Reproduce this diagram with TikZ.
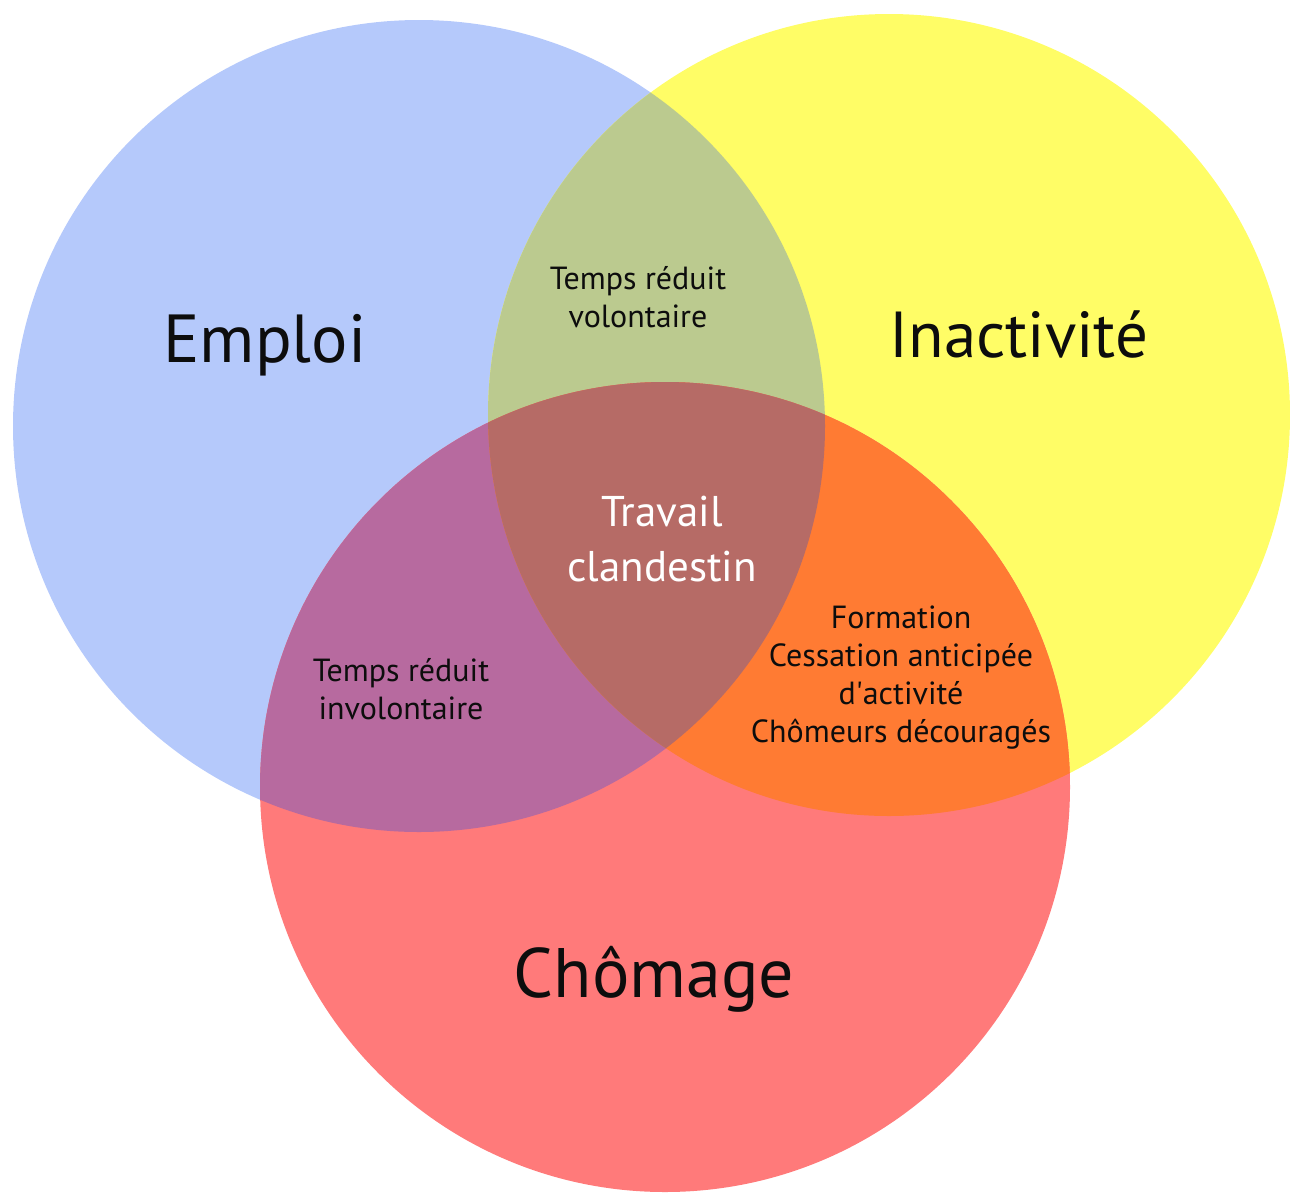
\documentclass[tikz,border=0pt]{standalone}
\usepackage{fontspec}
\setmainfont{PT Sans}
\definecolor{emploicol}{HTML}{B5C9FB}
\definecolor{inactcol}{HTML}{FFFD66}
\definecolor{chomcol}{HTML}{FF7A7A}
\definecolor{volcol}{HTML}{BBCA8F}
\definecolor{involcol}{HTML}{B76A9F}
\definecolor{formcol}{HTML}{FF7B33}
\definecolor{clandcol}{HTML}{B66B66}
\begin{document}
\begin{tikzpicture}[x=1pt,y=-1pt,
	big/.style={font=\fontsize{68}{80}\selectfont,text=black!95,anchor=base},
	small/.style={font=\fontsize{32}{38}\selectfont,text=black!95,align=center},
	mid/.style={font=\fontsize{43}{55}\selectfont,text=white,align=center}]
		\useasboundingbox (0,0) rectangle (1290,1192);
		\coordinate (E) at (419,426);
		\coordinate (I) at (889,415);
		\coordinate (C) at (665,787);
		% the three sets
		\fill[emploicol] (E) circle (406);
		\fill[inactcol] (I) circle (401);
		\fill[chomcol] (C) circle (405);
		% overlaps of two sets
		\begin{scope}
			\clip (E) circle (406);
			\fill[volcol] (I) circle (401);
			\fill[involcol] (C) circle (405);
		\end{scope}
		\begin{scope}
			\clip (I) circle (401);
			\fill[formcol] (C) circle (405);
		\end{scope}
		% all three
		\begin{scope}
			\clip (E) circle (406);
			\clip (I) circle (401);
			\fill[clandcol] (C) circle (405);
		\end{scope}
		% labels
		\node[big] (emploi) at (265,362) {Emploi};
		\node[big,font=\fontsize{65}{75}\selectfont] (inact) at (1019,357) {Inactivité};
		\node[big,font=\fontsize{70}{80}\selectfont] (chom) at (654,997) {Chômage};
		\node[small] (vol) at (638,297) {Temps réduit\\volontaire};
		\node[small] (invol) at (401,689) {Temps réduit\\involontaire};
		\node[small] (form) at (901,678) {Formation\\Cessation anticipée\\d\textquotesingle activité\\Chômeurs découragés};
		\node[mid] (cland) at (662,539) {Travail\\clandestin};
		\end{tikzpicture}
\end{document}
